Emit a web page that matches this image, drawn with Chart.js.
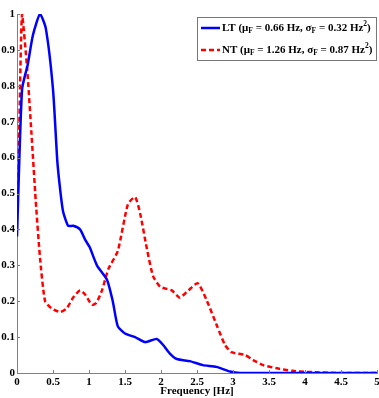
<!DOCTYPE html>
<html>
<head>
<meta charset="utf-8">
<script src="https://cdn.jsdelivr.net/npm/chart.js@4"></script>
<style>
  html, body { margin: 0; padding: 0; background: #fff; }
  #chart { display: block; }
</style>
</head>
<body>
<canvas id="chart" width="379" height="398"></canvas>
<script>
// LT curve (blue, solid)
const ltFreq = [0, 0.07, 0.15, 0.22, 0.32, 0.4, 0.5, 0.56, 0.6, 0.64, 0.71, 0.78, 0.875, 0.95, 1.01, 1.11, 1.25, 1.33, 1.4, 1.5, 1.64, 1.78, 1.94, 2.03, 2.12, 2.22, 2.4, 2.58, 2.77, 2.96, 3.1, 3.5, 4, 4.5, 5];
const ltVal  = [0.38, 0.79, 0.86, 0.94, 1.0, 0.96, 0.79, 0.59, 0.51, 0.45, 0.41, 0.41, 0.40, 0.37, 0.35, 0.30, 0.26, 0.20, 0.13, 0.11, 0.10, 0.086, 0.095, 0.078, 0.055, 0.039, 0.033, 0.022, 0.017, 0.004, 0, 0, 0, 0, 0];

// NT curve (red, dashed)
const ntFreq = [0, 0.02, 0.07, 0.14, 0.2, 0.26, 0.32, 0.39, 0.48, 0.6, 0.69, 0.78, 0.875, 0.94, 1.04, 1.1, 1.18, 1.27, 1.4, 1.54, 1.64, 1.71, 1.8, 1.89, 1.99, 2.15, 2.26, 2.38, 2.51, 2.64, 2.78, 2.89, 2.98, 3.17, 3.28, 3.42, 3.61, 3.83, 4.03, 4.5, 5];
const ntVal  = [0.5, 0.57, 1.0, 0.85, 0.67, 0.48, 0.32, 0.20, 0.18, 0.17, 0.18, 0.21, 0.23, 0.22, 0.19, 0.195, 0.23, 0.29, 0.34, 0.47, 0.49, 0.445, 0.35, 0.27, 0.24, 0.23, 0.21, 0.23, 0.25, 0.20, 0.13, 0.078, 0.058, 0.05, 0.036, 0.022, 0.013, 0.006, 0.003, 0, 0];

// legend text, pieces marked for sub/superscript
const ltLabel = [['LT (μ'], ['F', 'sub'], [' = 0.66 Hz, σ'], ['F', 'sub'], [' = 0.32 Hz'], ['2', 'sup'], [')']];
const ntLabel = [['NT (μ'], ['F', 'sub'], [' = 1.26 Hz, σ'], ['F', 'sub'], [' = 0.87 Hz'], ['2', 'sup'], [')']];

const xTitle = 'Frequency [Hz]';
const serif = "'Liberation Serif', 'DejaVu Serif', serif";

const toPoints = (xs, ys) => xs.map((x, i) => ({ x: x, y: ys[i] }));
const trimNum = v => String(Math.round(v * 10) / 10);

// inward tick marks, matlab style
const innerTicks = {
  id: 'innerTicks',
  afterDraw(c) {
    const ctx = c.ctx;
    const xs = c.scales.x, ys = c.scales.y;
    ctx.save();
    ctx.strokeStyle = '#808080';
    ctx.lineWidth = 1;
    ctx.beginPath();
    xs.ticks.forEach(t => {
      const px = Math.round(xs.getPixelForValue(t.value)) + 0.5;
      ctx.moveTo(px, ys.bottom);
      ctx.lineTo(px, ys.bottom - 3);
    });
    ys.ticks.forEach(t => {
      const py = Math.round(ys.getPixelForValue(t.value)) + 0.5;
      ctx.moveTo(xs.left, py);
      ctx.lineTo(xs.left + 3, py);
    });
    ctx.stroke();
    ctx.restore();
  }
};

// legend box with subscripts
const boxLegend = {
  id: 'boxLegend',
  afterDraw(c) {
    const ctx = c.ctx;
    const bx = 197, by = 17, bw = 179, bh = 43;
    ctx.save();
    ctx.fillStyle = '#fff';
    ctx.fillRect(bx, by, bw, bh);
    ctx.strokeStyle = '#777';
    ctx.lineWidth = 1;
    ctx.strokeRect(bx + 0.5, by + 0.5, bw, bh);

    const rows = [
      { parts: ltLabel, ds: c.data.datasets[0], y: 28 },
      { parts: ntLabel, ds: c.data.datasets[1], y: 50 }
    ];
    rows.forEach(r => {
      ctx.strokeStyle = r.ds.borderColor;
      ctx.lineWidth = 2.5;
      ctx.setLineDash(r.ds.borderDash || []);
      ctx.beginPath();
      ctx.moveTo(201, r.y);
      ctx.lineTo(220, r.y);
      ctx.stroke();
      ctx.setLineDash([]);

      let x = 222;
      ctx.fillStyle = '#000';
      ctx.textBaseline = 'middle';
      r.parts.forEach(p => {
        let size = 11, dy = 0;
        if (p[1] === 'sub') { size = 7.5; dy = 3; }
        if (p[1] === 'sup') { size = 7.5; dy = -4; }
        ctx.font = 'bold ' + size + 'px ' + serif;
        ctx.fillText(p[0], x, r.y + dy);
        x += ctx.measureText(p[0]).width;
      });
    });
    ctx.restore();
  }
};

const chart = new Chart(document.getElementById('chart').getContext('2d'), {
  type: 'line',
  data: {
    datasets: [
      {
        label: 'LT',
        data: toPoints(ltFreq, ltVal),
        borderColor: '#0000ff',
        borderWidth: 2.5,
        pointRadius: 0,
        tension: 0.2,
        fill: false
      },
      {
        label: 'NT',
        data: toPoints(ntFreq, ntVal),
        borderColor: '#ff0000',
        borderWidth: 2.5,
        borderDash: [5, 3],
        pointRadius: 0,
        tension: 0.2,
        fill: false
      }
    ]
  },
  options: {
    responsive: false,
    animation: false,
    layout: { padding: { top: 14, right: 2, left: 0, bottom: 0 } },
    plugins: { legend: { display: false }, tooltip: { enabled: false } },
    scales: {
      x: {
        type: 'linear',
        min: 0,
        max: 5,
        grid: { drawOnChartArea: false, drawTicks: false },
        border: { display: true, color: '#808080', width: 1 },
        ticks: { stepSize: 0.5, padding: 3, color: '#000', callback: trimNum, font: { family: serif, size: 11, weight: 'bold' }, maxRotation: 0 },
        title: { display: true, text: xTitle, color: '#000', padding: 0, font: { family: serif, size: 11, weight: 'bold' } },
        afterFit: s => { s.height = 25; s.paddingLeft = 0; s.paddingRight = 0; }
      },
      y: {
        min: 0,
        max: 1,
        grid: { drawOnChartArea: false, drawTicks: false },
        border: { display: true, color: '#808080', width: 1 },
        ticks: { stepSize: 0.1, padding: 2, color: '#000', callback: trimNum, font: { family: serif, size: 11, weight: 'bold' } },
        afterFit: s => { s.width = 17; s.paddingTop = 0; s.paddingBottom = 0; }
      }
    }
  },
  plugins: [innerTicks, boxLegend]
});
</script>
</body>
</html>
